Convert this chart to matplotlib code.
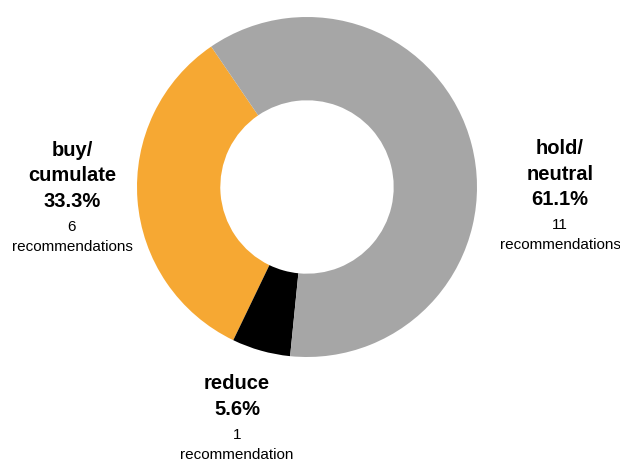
import matplotlib
matplotlib.use("Agg")
import matplotlib.pyplot as plt

labels = ["buy/\ncumulate", "reduce", "hold/\nneutral"]
counts = [6, 1, 11]
pcts = [33.3, 5.6, 61.1]
colors = ["#F6A833", "#000000", "#A6A6A6"]

plt.rcParams['font.family'] = ['Liberation Sans Narrow', 'Liberation Sans', 'DejaVu Sans']

W, H = 620, 464
fig = plt.figure(figsize=(W / 100, H / 100), dpi=100)
ax = fig.add_axes([0, 0, 1, 1])

# pie centre at pixel (307, 188), radius 170 px
cx, cy, rpx = 307, 188, 170
ax.pie(counts, colors=colors, startangle=124.3, counterclock=True,
       radius=1, wedgeprops=dict(width=0.49, linewidth=0))
ax.set_xlim(-cx / rpx, (W - cx) / rpx)
ax.set_ylim(-(H - cy) / rpx, cy / rpx)
ax.set_aspect('equal')
ax.axis('off')


def put_label(px, py, name, pct, n):
    # px, py: pixel position of the first line centre (from top)
    y = py
    for line in name.split("\n") + [f"{pct:.1f}%"]:
        fig.text(px / W, 1 - y / H, line, ha='center', va='center',
                 fontsize=14.5, fontweight='bold')
        y += 26
    word = "recommendation" if n == 1 else "recommendations"
    fig.text(px / W, 1 - (y - 1) / H, str(n), ha='center', va='center', fontsize=11)
    fig.text(px / W, 1 - (y + 19) / H, word, ha='center', va='center', fontsize=11)


put_label(72, 150, labels[0], pcts[0], counts[0])
put_label(237, 384, labels[1], pcts[1], counts[1])
put_label(560, 148, labels[2], pcts[2], counts[2])

fig.savefig("out.png", dpi=100)
